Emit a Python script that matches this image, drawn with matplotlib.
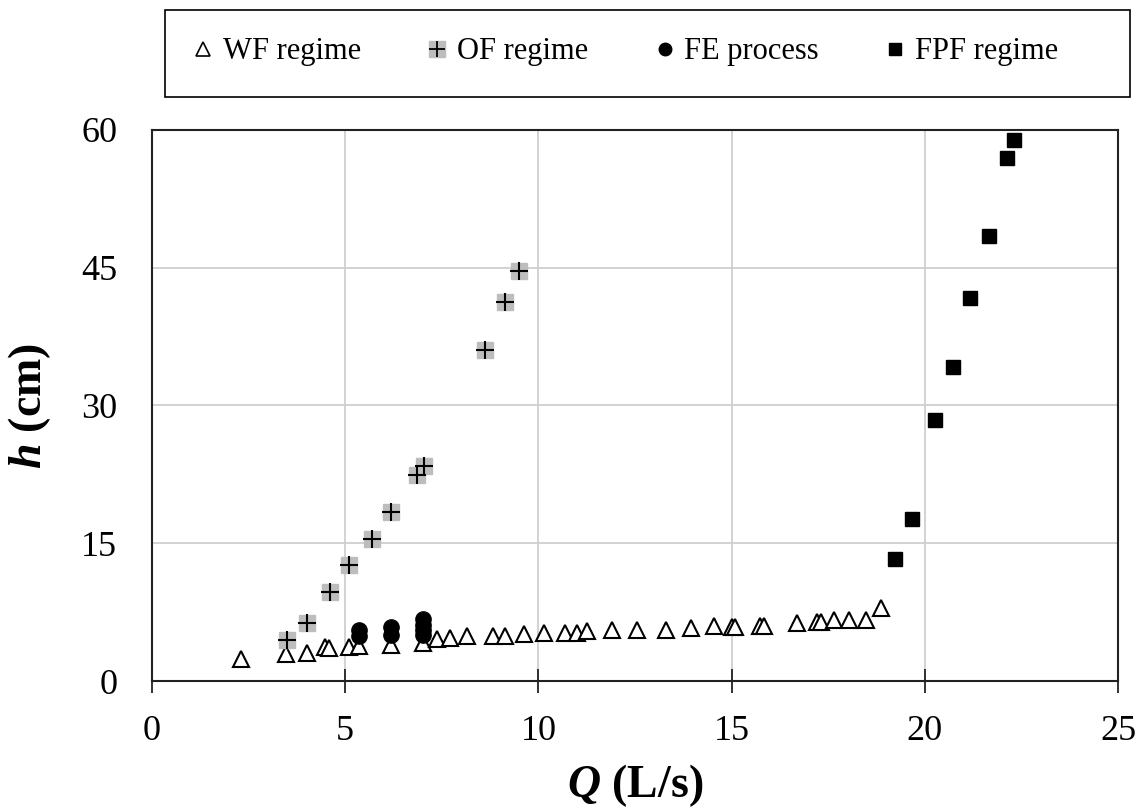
import matplotlib
matplotlib.use("Agg")
import matplotlib.pyplot as plt
from matplotlib.lines import Line2D
from matplotlib.patches import Rectangle
from matplotlib.legend_handler import HandlerTuple

plt.rcParams['font.family'] = ['Liberation Serif', 'DejaVu Serif']
plt.rcParams['mathtext.fontset'] = 'custom'
plt.rcParams['mathtext.rm'] = 'Liberation Serif'
plt.rcParams['mathtext.it'] = 'Liberation Serif:italic:bold'
plt.rcParams['mathtext.bf'] = 'Liberation Serif:bold'

# ---- data ----
wf_q = [2.30, 3.47, 4.01, 4.48, 4.59, 5.10, 5.37, 6.19, 7.01, 7.37, 7.72, 8.14,
        8.83, 9.13, 9.62, 10.14, 10.70, 11.00, 11.26, 11.91, 12.56, 13.29, 13.94,
        14.54, 15.00, 15.10, 15.73, 15.85, 16.68, 17.22, 17.31, 17.65, 18.04,
        18.47, 18.86]
wf_h = [2.4, 2.9, 3.1, 3.7, 3.6, 3.65, 3.8, 3.95, 4.1, 4.6, 4.7, 4.85,
        4.9, 4.9, 5.1, 5.2, 5.2, 5.2, 5.4, 5.5, 5.6, 5.6, 5.8,
        6.0, 5.9, 5.9, 6.0, 6.0, 6.3, 6.4, 6.4, 6.6, 6.6,
        6.6, 8.0]

of_q = [3.49, 4.01, 4.61, 5.10, 5.70, 6.19, 6.87, 7.03, 8.63, 9.13, 9.49]
of_h = [4.5, 6.3, 9.7, 12.6, 15.5, 18.4, 22.4, 23.4, 36.0, 41.3, 44.7]

fe_q = [5.37, 5.37, 6.19, 6.19, 7.01, 7.01, 7.01, 7.01]
fe_h = [4.9, 5.6, 5.0, 5.9, 5.0, 5.6, 6.1, 6.8]

fpf_q = [19.22, 19.68, 20.27, 20.73, 21.17, 21.66, 22.12, 22.32]
fpf_h = [13.3, 17.6, 28.4, 34.2, 41.7, 48.5, 57.0, 58.9]

x_ticks = [0, 5, 10, 15, 20, 25]
y_ticks = [0, 15, 30, 45, 60]

fig = plt.figure(figsize=(11.41, 8.08), dpi=100)
ax = fig.add_axes([152/1141, 1 - 681/808, (1118-152)/1141, (681-130)/808])

ax.plot(wf_q, wf_h, linestyle='none', marker='^', markersize=12,
        markerfacecolor='white', markeredgecolor='black', markeredgewidth=1.5, zorder=3)
ax.plot(of_q, of_h, linestyle='none', marker='s', markersize=12,
        markerfacecolor='#bdbdbd', markeredgecolor='#bdbdbd', zorder=3)
ax.plot(of_q, of_h, linestyle='none', marker='+', markersize=13,
        markeredgecolor='black', markeredgewidth=1.5, zorder=3)
ax.plot(fe_q, fe_h, linestyle='none', marker='o', markersize=11,
        markerfacecolor='black', markeredgecolor='black', zorder=3)
ax.plot(fpf_q, fpf_h, linestyle='none', marker='s', markersize=10,
        markerfacecolor='black', markeredgecolor='black', zorder=3)

ax.set_xlim(0, 25)
ax.set_ylim(0, 60)
ax.set_xticks(x_ticks)
ax.set_yticks(y_ticks)
ax.grid(True, color='#cfcfcf', linewidth=1.3, zorder=0)
ax.set_axisbelow(True)
for s in ax.spines.values():
    s.set_color('#222222')
    s.set_linewidth(1.5)
ax.tick_params(axis='x', direction='inout', length=17, width=1.3, pad=16,
               labelsize=26, color='#222222')
ax.tick_params(axis='y', length=0, pad=25, labelsize=26)

ax.set_xlabel(r'$Q$ (L/s)', fontsize=33, fontweight='bold', labelpad=10)
ax.set_ylabel(r'$h$ (cm)', fontsize=33, fontweight='bold')
ax.yaxis.set_label_coords(-0.1025, 0.5)

# legend frame (drawn separately so the entries can sit as in the reference)
fig.patches.append(Rectangle((165/1141, 1 - 97/808), (1130-165)/1141, 87/808,
                             transform=fig.transFigure, fill=False,
                             edgecolor='black', linewidth=1.2))

h_wf = Line2D([], [], linestyle='none', marker='^', markersize=10,
              markerfacecolor='white', markeredgecolor='black', markeredgewidth=1.2)
h_of_bg = Line2D([], [], linestyle='none', marker='s', markersize=11,
                 markerfacecolor='#bdbdbd', markeredgecolor='#bdbdbd')
h_of_fg = Line2D([], [], linestyle='none', marker='+', markersize=11,
                 markeredgecolor='black', markeredgewidth=1.3)
h_fe = Line2D([], [], linestyle='none', marker='o', markersize=9,
              markerfacecolor='black', markeredgecolor='black')
h_fpf = Line2D([], [], linestyle='none', marker='s', markersize=9,
               markerfacecolor='black', markeredgecolor='black')
leg = fig.legend([h_wf, (h_of_bg, h_of_fg), h_fe, h_fpf],
                 ['WF regime', 'OF regime', 'FE process', 'FPF regime'],
                 handler_map={tuple: HandlerTuple(ndivide=1, pad=0)},
                 loc='center', ncol=4,
                 bbox_to_anchor=(626/1141, 1 - 52/808),
                 fontsize=22, frameon=False,
                 handlelength=0.6, handletextpad=0.35, columnspacing=2.2,
                 borderaxespad=0, borderpad=0)

fig.savefig('out.png', dpi=100)
